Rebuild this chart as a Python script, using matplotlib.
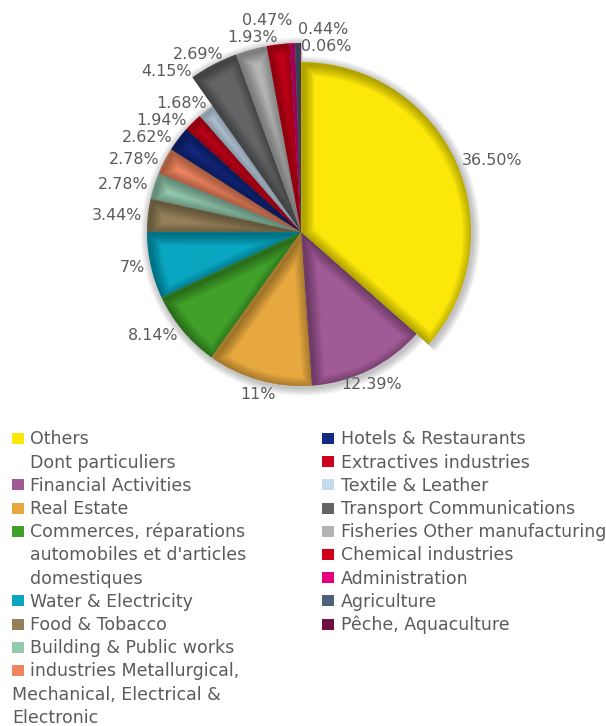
import numpy as np
import matplotlib
matplotlib.use('Agg')
import matplotlib.pyplot as plt
from matplotlib.patches import Rectangle, Wedge

# ---- data ----
sectors = ['Others', 'Dont particuliers', 'Financial Activities', 'Real Estate',
           "Commerces, réparations\nautomobiles et d'articles\ndomestiques",
           'Water & Electricity', 'Food & Tobacco', 'Building & Public works',
           'industries Metallurgical,\nMechanical, Electrical &\nElectronic',
           'Hotels & Restaurants', 'Extractives industries', 'Textile & Leather',
           'Transport Communications', 'Fisheries Other manufacturing',
           'Chemical industries', 'Administration', 'Agriculture', 'Pêche, Aquaculture']
shares = [36.50, 0, 12.39, 11, 8.14, 7, 3.44, 2.78, 2.78, 2.62, 1.94, 1.68,
          4.15, 2.69, 1.93, 0.47, 0.44, 0.06]
colors = ['#fbe80a', None, '#a05a95', '#e6a83f', '#40a02a', '#0aa6c1', '#93805a',
          '#92caae', '#ee8560', '#14287f', '#d0021b', '#c6daee', '#636466',
          '#b4b4b5', '#d0021b', '#e2007a', '#4d6178', '#6e0f40']
raised = [12, 13, 14, 15, 16, 17]     # slices drawn with the bigger radius
outdent = [8]                          # legend entries whose wrapped lines start under the square

W, H = 606, 726
CX, CY = 301, 232          # pie centre in pixels from the top
R_BASE, R_BIG, R_TOP = 154, 189, 170
GREY = '#5b5b5b'

plt.rcParams['font.family'] = ['DejaVu Sans']

fig = plt.figure(figsize=(W / 100, H / 100), dpi=100)
ax = fig.add_axes([0, 0, 1, 1])


def fy(py):
    return H - py


def pct(v):
    return '%d%%' % v if v == int(v) else '%.2f%%' % v


explode = [0.03 if i == 0 else 0 for i in range(len(shares))]
pie_cols = [c if c else 'white' for c in colors]
wedges, _ = ax.pie(shares, colors=pie_cols, startangle=90, counterclock=False,
                   center=(CX, fy(CY)), radius=R_BASE, explode=explode,
                   wedgeprops=dict(linewidth=0))
ax.set_xlim(0, W)
ax.set_ylim(0, H)
ax.axis('off')

for i, w in enumerate(wedges):
    if i == 0:
        w.set_radius(R_TOP)
    elif i in raised:
        w.set_radius(R_BIG)
    up = i == 0 or i in raised
    w.set_zorder(4 if up else 2)
    # soft drop shadow
    for k in range(1, 8):
        s = Wedge((w.center[0] + 1.5, w.center[1] - 2), w.r + k * 1.1, w.theta1, w.theta2,
                  facecolor='black', edgecolor='none', alpha=0.035, zorder=3 if up else 1)
        ax.add_patch(s)
    # inner shading, light from bottom right (many faint strokes -> smooth gradient)
    for lw in np.linspace(1, 16, 12):
        s = Wedge((w.center[0] + 2.5, w.center[1] - 2.5), w.r, w.theta1, w.theta2,
                  facecolor='none', edgecolor='black', linewidth=lw, alpha=0.028,
                  zorder=w.get_zorder() + 0.1)
        s.set_clip_path(w)
        ax.add_patch(s)

# ---- percentage labels ----
left, right = [], []
for i, (w, v) in enumerate(zip(wedges, shares)):
    if v <= 0:
        continue
    ang = (w.theta1 + w.theta2) / 2
    a = np.deg2rad(ang)
    ox, oy = w.center[0], H - w.center[1]
    rad = w.r + 6
    lab = dict(txt=pct(v), cos=np.cos(a), sin=np.sin(a), ox=ox, oy=oy, rad=rad,
               x=ox + rad * np.cos(a), y=oy - rad * np.sin(a))
    lab['yc'] = lab['y'] + 8 if lab['sin'] < -0.85 else lab['y']
    if lab['cos'] < -0.03:
        lab['key'] = ang % 360
        left.append(lab)
    else:
        lab['key'] = -(((ang + 90) % 360) - 90)
        right.append(lab)


def spread(ys, gap):
    blocks = []
    for i, y in enumerate(ys):
        blocks.append([i, 1, y])
        while len(blocks) > 1:
            p, q = blocks[-2], blocks[-1]
            if q[2] < p[2] + p[1] * gap:
                n = p[1] + q[1]
                ideal = [ys[p[0] + k] - k * gap for k in range(n)]
                blocks[-2:] = [[p[0], n, sum(ideal) / n]]
            else:
                break
    out = []
    for s, n, top in blocks:
        out += [top + k * gap for k in range(n)]
    return out


for side, labs in [(-1, left), (1, right)]:
    labs.sort(key=lambda d: d['key'])
    ys = spread([d['yc'] for d in labs], 17)
    for d, yc in zip(labs, ys):
        if d['sin'] < -0.85:
            x, ha = d['x'], 'center'
        else:
            ha = 'right' if side < 0 else 'left'
            dy = yc - d['oy']
            if d['sin'] > 0.98 or abs(dy) >= d['rad']:
                x = d['x']
            else:
                x = d['ox'] + side * np.sqrt(d['rad'] ** 2 - dy ** 2)
        ax.text(x, fy(yc + 5.5), d['txt'], ha=ha, va='baseline', fontsize=11.4,
                color=GREY, zorder=10)

# ---- legend ----
ROW0, ROW_H = 438.5, 23.2
cols = [(range(0, 9), 12, 30), (range(9, len(sectors)), 322, 341)]
for idx, sq_x, tx in cols:
    row = 0
    for i in idx:
        lines = sectors[i].split('\n')
        yc = ROW0 + row * ROW_H
        if colors[i]:
            ax.add_patch(Rectangle((sq_x, fy(yc + 5.5)), 12, 11, facecolor=colors[i],
                                   edgecolor='none', zorder=10))
        for k, line in enumerate(lines):
            x = tx if k == 0 or i not in outdent else sq_x
            ax.text(x, fy(yc + k * ROW_H + 6), line, ha='left', va='baseline',
                    fontsize=12.5, color=GREY, zorder=10)
        row += len(lines)

fig.savefig('out.png', dpi=100)
